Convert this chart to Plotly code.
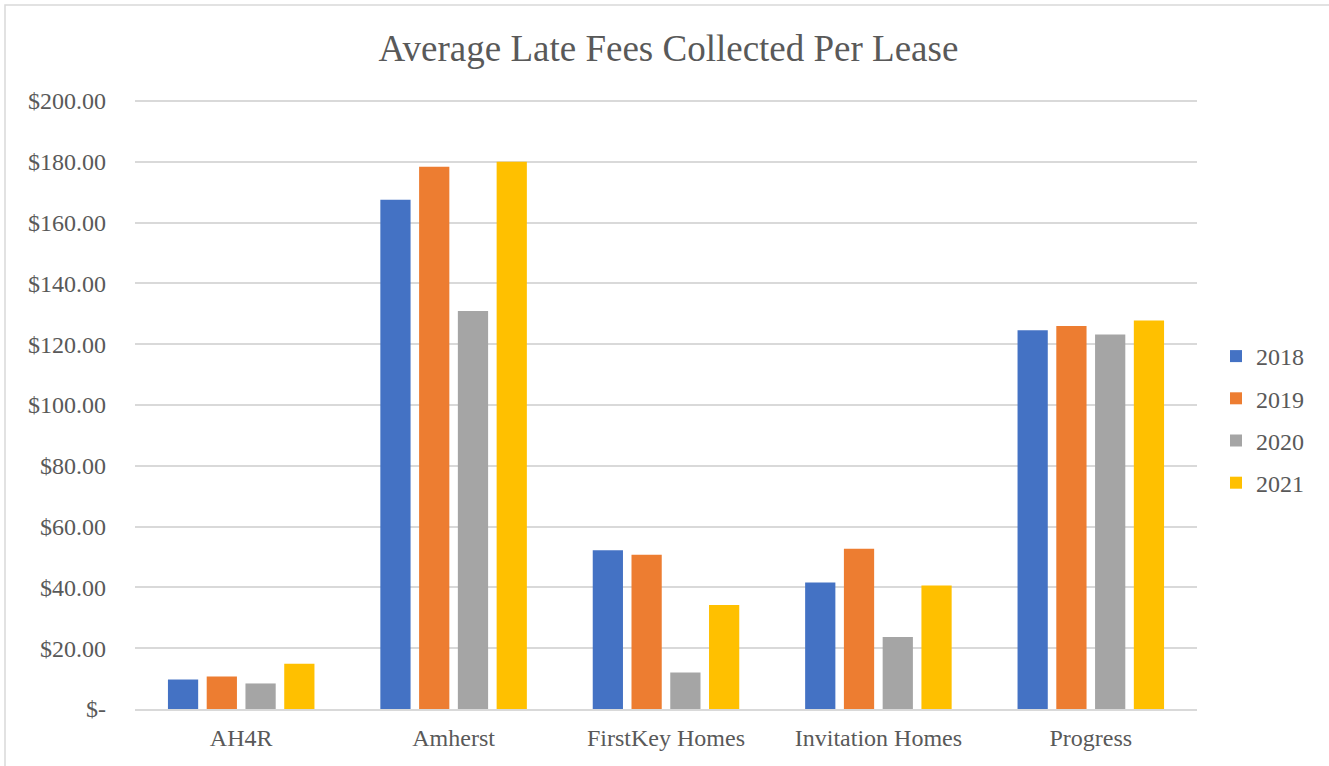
import plotly.graph_objects as go

categories = ["AH4R", "Amherst", "FirstKey Homes", "Invitation Homes", "Progress"]
years = ["2018", "2019", "2020", "2021"]
v2018 = [9.7, 167.5, 52.2, 41.6, 124.6]
v2019 = [10.7, 178.4, 50.7, 52.7, 126.0]
v2020 = [8.4, 130.9, 12.0, 23.7, 123.2]
v2021 = [14.9, 180.0, 34.2, 40.6, 127.8]
series = [v2018, v2019, v2020, v2021]
colors = ["#4472C4", "#ED7D31", "#A5A5A5", "#FFC000"]
tickvals = [0, 20, 40, 60, 80, 100, 120, 140, 160, 180, 200]
ticktext = ["$-", "$20.00", "$40.00", "$60.00", "$80.00", "$100.00", "$120.00",
            "$140.00", "$160.00", "$180.00", "$200.00"]

font_family = "Liberation Serif, Times New Roman, serif"
txt = "#595959"

W, H = 1329, 766
L, R, T, B = 135, 10, 94, 57
paper_w = W - L - R
paper_h = H - T - B
plot_right = 1197
dom_right = (plot_right - L) / paper_w
ymax = 200 * paper_h / 608.0

fig = go.Figure()
for name, vals, col in zip(years, series, colors):
    fig.add_trace(go.Bar(x=categories, y=vals, name=name, marker_color=col,
                         marker_line_width=0, legendgroup=name))

fig.update_layout(
    width=W, height=H,
    margin=dict(l=L, r=R, t=T, b=B, autoexpand=False),
    paper_bgcolor="white", plot_bgcolor="white",
    barmode="group", bargap=0.27, bargroupgap=0.22,
    title=dict(text="Average Late Fees Collected Per Lease", x=0.503, xanchor="center",
               y=1 - 48 / H, yanchor="middle",
               font=dict(family=font_family, size=37, color=txt)),
    font=dict(family=font_family, size=24, color=txt),
    xaxis=dict(domain=[0, dom_right], showgrid=False, ticks="",
               tickfont=dict(size=24, color=txt), ticklabelstandoff=6,
               showline=True, linecolor="#d9d9d9", linewidth=1.5),
    yaxis=dict(range=[0, ymax], tickvals=tickvals, ticktext=ticktext,
               showgrid=True, gridcolor="#d9d9d9", gridwidth=1.5,
               zeroline=False, ticks="", ticklabelstandoff=28,
               tickfont=dict(size=24, color=txt)),
    legend=dict(x=(1216 - L) / paper_w, xanchor="left",
                y=(709 - 419.5) / paper_h, yanchor="middle",
                font=dict(size=24, color=txt), tracegroupgap=8,
                bgcolor="rgba(0,0,0,0)"),
    showlegend=True,
)

fig.add_shape(type="rect", xref="paper", yref="paper",
              x0=(5 - L) / paper_w, x1=(1345 - L) / paper_w,
              y0=(709 - 790) / paper_h, y1=(709 - 5) / paper_h,
              line=dict(color="#d9d9d9", width=1.5), fillcolor="rgba(0,0,0,0)",
              layer="below")

fig.write_html("out.html")
